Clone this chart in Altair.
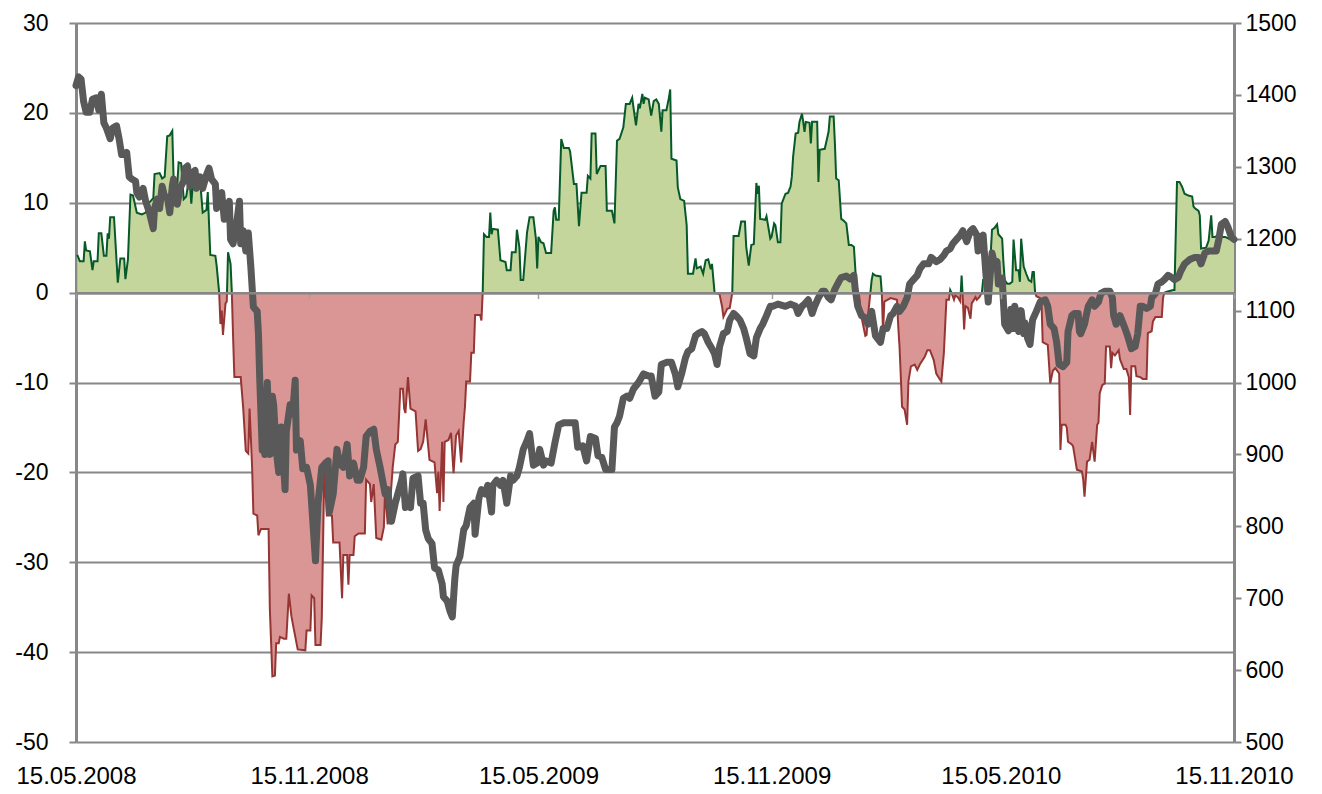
import altair as alt
import pandas as pd

# Oscillator (left axis): days since 15.05.2008 and value
osc_day = [1,3,6,7,8,11,13,14,17,18,20,22,24,25,26,27,30,33,35,38,39,41,43,45,48,52,55,57,61,62,66,68,70,72,74,76,77,79,81,83,85,87,89,90,91,93,96,98,100,103,104,106,110,111,113,114,115,116,118,119,120,122,123,124,125,130,132,134,136,137,139,140,143,144,146,152,153,155,157,158,160,161,164,166,168,170,172,175,181,182,185,186,188,189,193,194,196,198,202,203,208,210,211,214,215,216,219,220,223,228,229,232,233,235,237,241,243,244,246,248,250,252,254,256,258,259,260,262,264,268,270,272,274,276,278,279,283,285,286,287,289,290,291,294,296,298,300,302,304,306,307,308,311,312,314,315,319,320,321,
 322,324,326,327,328,329,333,335,339,340,343,344,347,348,350,351,353,356,358,361,363,364,365,367,369,371,375,377,378,379,381,383,385,389,390,393,395,397,399,403,404,406,407,410,411,414,418,419,423,425,427,429,432,434,437,439,440,442,444,445,447,448,449,452,454,456,458,460,462,463,466,468,469,470,474,475,477,480,482,483,487,489,490,493,495,497,499,501,502,504,
 508,510,511,514,516,518,
 519,523,525,528,529,531,533,535,537,538,539,540,544,545,548,549,551,552,554,556,557,560,562,564,565,566,568,570,571,573,574,575,576,579,580,581,585,586,587,591,594,595,598,599,600,602,604,606,608,610,612,614,616,617,
 618,620,621,623,624,625,627,
 628,629,631,635,636,
 637,638,643,648,649,650,652,654,656,657,659,662,664,666,670,672,674,677,679,682,683,685,687,689,690,691,693,694,696,698,699,700,701,702,704,706,707,710,711,713,715,
 716,719,721,723,725,727,728,731,732,733,735,737,739,740,742,744,745,746,748,750,752,754,755,756,757,
 758,762,763,767,769,771,773,776,777,778,781,782,783,786,787,790,794,795,796,798,800,802,804,806,807,808,810,812,813,816,817,818,820,823,824,827,829,831,832,833,836,837,840,842,845,846,849,850,852,857,858,859,
 861,866,867,869,871,873,875,878,881,882,883,886,887,888,892,894,896,897,899,902,904,907,910,912,914]
osc_val = [4.2,3.5,3.5,5.7,4.7,4.6,2.5,3.5,3.5,6.6,6.6,4.1,4.1,6.6,6.0,8.4,8.4,1.1,3.8,3.8,1.5,3.7,10.9,10.8,8.9,8.7,8.9,9.9,10.5,13.2,13.3,12.7,12.9,17.4,17.5,18.0,12.8,9.9,14.5,14.4,10.4,10.7,12.5,11.9,9.9,13.6,13.2,12.4,8.9,9.2,11.2,4.2,4.1,3.0,0,-3.5,-2.0,-4.7,-1.2,-1.0,4.5,3.2,0,-5.0,-9.4,-9.4,-12.9,-17.6,-17.9,-12.9,-19.4,-24.6,-24.8,-27.0,-26.3,-26.3,-35.2,-42.7,-42.6,-39.0,-39.0,-38.3,-38.5,-38.5,-33.5,-36.0,-37.5,-39.7,-39.8,-37.6,-37.6,-33.7,-34.0,-39.2,-39.2,-36.2,-19.6,-24.8,-24.8,-27.8,-27.8,-34.0,-29.2,-29.2,-32.5,-29.2,-29.2,-27.1,-26.8,-26.8,-20.8,-21.3,-23.3,-21.3,-27.3,-27.5,-26.1,-21.8,-25.8,-23.3,-19.4,-16.9,-16.6,-10.7,-10.7,-12.9,-13.4,-9.4,-12.9,-13.2,-17.6,-17.4,-16.6,-14.1,-17.1,-18.6,-18.9,-22.3,-19.9,-24.3,-16.6,-23.3,-16.6,-16.4,-15.6,-20.1,-15.9,-15.4,-18.9,-14.4,-12.7,-9.9,-9.9,-6.7,-6.7,-2.5,-2.5,-3.1,0,
 6.5,6.2,6.2,8.9,6.5,7.1,7.0,3.6,3.4,2.5,2.5,4.5,4.5,7.0,5.0,1.4,1.4,6.7,8.4,8.4,6.0,2.7,6.2,5.6,5.5,4.4,4.4,9.1,9.5,8.1,8.1,17.1,16.1,16.1,15.7,12.1,12.1,7.4,11.1,11.1,13.0,12.7,17.7,17.7,13.2,14.1,14.1,9.1,9.1,7.7,16.9,17.1,18.4,21.0,21.0,21.7,20.6,18.6,21.0,20.5,22.1,21.0,21.7,21.5,19.7,21.3,21.5,21.0,17.9,20.3,20.3,21.7,22.6,14.9,14.7,11.7,10.4,10.2,7.5,2.1,2.1,3.8,2.7,2.9,2.1,3.6,3.7,2.6,3.2,0,
 -0.2,-1.6,-2.7,-1.8,-1.7,0,
 6.3,6.3,7.9,7.9,5.1,3.0,5.3,5.4,12.2,11.0,11.9,8.2,8.1,8.5,6.0,6.2,7.7,7.5,5.6,5.6,9.9,11.0,11.1,11.8,12.9,15.1,17.7,17.8,19.0,19.9,19.0,17.9,19.0,18.9,16.6,19.0,19.0,12.3,15.9,16.0,17.9,19.6,19.6,16.6,12.7,12.5,8.2,8.0,7.7,5.3,5.3,5.1,0.6,0,
 -0.2,-2.7,-3.4,-4.8,-4.7,-2.7,0,
 1.4,2.1,1.9,1.8,0,
 -4.5,-1.0,-0.6,-0.8,-3.8,-6.0,-12.7,-13.0,-14.7,-9.9,-8.2,-8.0,-8.6,-8.0,-7.1,-6.4,-6.4,-7.5,-9.0,-9.7,-9.9,-6.7,-0.8,-0.8,0.3,0,-0.8,-0.3,-0.5,-1.0,1.9,-0.8,-4.1,-1.5,-1.7,-2.9,-1.2,-0.5,-0.8,-0.5,0,
 1.4,1.4,1.8,7.0,7.2,7.6,6.5,6.0,3.4,1.4,1.0,1.0,1.2,5.9,2.5,2.5,1.2,6.0,2.9,2.1,1.4,1.2,2.3,2.3,0,
 -0.4,-0.7,-5.5,-5.8,-10.1,-8.7,-8.4,-9.0,-17.5,-14.7,-14.7,-15.0,-16.6,-16.9,-17.1,-19.7,-19.9,-20.8,-22.7,-18.8,-18.6,-16.6,-18.8,-14.7,-14.5,-11.2,-10.3,-10.1,-6.0,-6.0,-8.4,-6.7,-7.0,-6.4,-7.4,-8.5,-8.5,-9.4,-13.6,-8.2,-8.2,-9.3,-9.4,-9.6,-9.6,-4.5,-4.3,-3.2,-2.7,-2.7,-0.6,0,
 0.1,0.3,0.3,12.3,12.3,11.8,11.0,10.8,10.7,9.6,9.4,9.1,8.6,4.9,5.0,5.8,8.6,6.2,6.2,6.4,6.2,6.2,6.0,6.0,6.0]

# Index (right axis): days since 15.05.2008 and level
idx_day = [0,2,4,6,8,11,13,16,18,20,22,24,27,29,32,34,36,39,40,42,44,47,48,50,53,55,58,61,62,64,66,68,70,72,74,76,77,80,82,85,86,88,90,92,94,95,98,100,103,105,107,110,111,115,117,119,121,122,124,127,129,130,132,134,136,138,140,143,144,145,147,148,149,151,153,155,156,158,160,162,165,166,169,171,173,174,177,179,182,185,189,191,194,197,199,200,203,206,208,211,214,216,219,222,224,227,229,232,235,237,240,244,246,249,252,254,257,258,260,262,264,266,270,272,274,276,278,281,283,286,289,290,293,295,297,299,300,303,306,308,311,314,315,318,320,323,325,328,329,332,335,337,340,343,345,348,350,353,356,358,361,364,366,369,371,375,378,381,385,389,394,396,400,403,406,410,412,415,418,423,425,427,429,432,435,437,440,444,448,452,454,457,460,462,466,470,473,475,478,481,483,486,489,491,494,496,499,502,504,506,508,511,514,516,519,521,524,527,529,532,535,537,540,542,545,548,550,554,560,564,568,570,573,575,578,581,583,586,589,591,594,596,599,602,604,608,611,614,615,617,620,623,625,628,631,635,637,640,643,645,648,650,653,656,658,661,664,666,669,673,675,679,682,685,687,690,692,695,698,700,703,706,708,711,712,714,716,718,720,721,723,725,727,728,731,733,736,738,740,741,744,746,748,749,751,753,755,758,761,765,767,769,772,774,776,779,782,783,786,788,791,792,793,796,797,799,802,804,807,809,812,816,818,819,821,824,826,828,830,833,836,838,840,842,845,848,849,852,854,857,859,862,865,867,870,872,875,879,883,886,888,891,894,897,900,902,904,907,909,912,914]
idx_val = [1413,1425,1422,1391,1376,1376,1394,1396,1379,1401,1361,1354,1339,1354,1357,1339,1317,1317,1320,1286,1283,1280,1264,1258,1270,1252,1236,1214,1242,1255,1242,1273,1258,1258,1236,1273,1283,1248,1270,1280,1298,1301,1273,1292,1295,1270,1286,1270,1289,1298,1283,1276,1242,1264,1227,1242,1252,1199,1193,1224,1252,1193,1211,1183,1208,1161,1105,1099,1068,1006,906,956,900,1000,900,981,969,906,875,938,851,932,969,956,1003,906,919,880,882,857,752,832,882,888,891,820,845,907,888,882,914,870,888,864,864,882,925,932,935,907,882,845,851,807,832,845,864,873,826,839,826,867,870,832,832,795,783,776,742,739,720,702,696,683,674,727,745,758,795,801,826,832,789,839,851,845,857,820,857,864,857,864,832,870,864,870,882,907,919,929,885,888,907,885,891,888,916,941,944,944,944,910,912,891,925,922,898,896,879,879,938,944,953,978,981,978,991,1000,1012,1009,1009,981,987,1025,1028,1028,1012,994,1012,1034,1043,1047,1065,1068,1071,1068,1056,1047,1040,1025,1050,1068,1071,1087,1096,1093,1087,1075,1062,1040,1037,1062,1075,1081,1093,1106,1106,1109,1106,1109,1106,1096,1106,1109,1115,1096,1106,1118,1127,1127,1118,1115,1130,1140,1146,1148,1144,1149,1130,1106,1093,1090,1081,1099,1065,1056,1075,1075,1093,1096,1106,1099,1106,1118,1137,1143,1149,1158,1165,1165,1174,1168,1171,1177,1183,1186,1193,1199,1205,1211,1196,1211,1214,1205,1183,1199,1205,1155,1112,1137,1180,1165,1168,1137,1145,1081,1072,1102,1075,1106,1071,1100,1068,1083,1062,1053,1087,1099,1112,1115,1106,1081,1075,1056,1025,1022,1028,1071,1093,1096,1096,1071,1068,1081,1090,1106,1115,1106,1112,1124,1127,1127,1118,1093,1081,1093,1084,1075,1065,1047,1050,1068,1106,1106,1103,1106,1118,1124,1137,1140,1143,1149,1146,1143,1146,1155,1165,1171,1174,1174,1165,1180,1183,1183,1183,1199,1220,1224,1217,1202,1199]

tick_days = [0, 184, 365, 549, 730, 914]
tick_labels = ["15.05.2008", "15.11.2008", "15.05.2009", "15.11.2009", "15.05.2010", "15.11.2010"]
left_ticks = [-50, -40, -30, -20, -10, 0, 10, 20, 30]
right_ticks = [500, 600, 700, 800, 900, 1000, 1100, 1200, 1300, 1400, 1500]

GREEN_FILL = "#c4d69c"
GREEN_LINE = "#07592a"
RED_FILL = "#d99694"
RED_LINE = "#963634"
GRAY = "#595959"
AXIS = "#878787"
FONT = "Liberation Sans"
FS = 23
FSX = 24

# split the oscillator into same-sign runs (insert zero crossings)
pts = []
for i, (d, v) in enumerate(zip(osc_day, osc_val)):
    if i > 0:
        d0, v0 = osc_day[i - 1], osc_val[i - 1]
        if v0 * v < 0:
            pts.append((d0 + (d - d0) * v0 / (v0 - v), 0.0))
    pts.append((d, v))

segments = []
cur, cur_sign = [], 0
for d, v in pts:
    s = (v > 0) - (v < 0)
    if s != 0 and cur_sign == 0:
        cur_sign = s
    cur.append((d, v))
    if s == 0 and cur_sign != 0:
        segments.append((cur_sign, cur))
        cur, cur_sign = [(d, v)], 0
if cur_sign != 0:
    segments.append((cur_sign, cur))

rows = []
for k, (s, seg) in enumerate(segments):
    for d, v in seg:
        rows.append({"day": d, "val": v, "seg": k, "sign": "pos" if s > 0 else "neg"})
df_osc = pd.DataFrame(rows)
df_idx = pd.DataFrame({"day": idx_day, "level": idx_val})

label_expr = "".join(f"datum.value == {d} ? '{l}' : " for d, l in zip(tick_days, tick_labels)) + "''"

W, H = 1158, 719
zero_offset = -H * 50 / 80

x_scale = alt.Scale(domain=[0, 914], nice=False, zero=False)

x_zero_axis = alt.Axis(orient="bottom", values=tick_days, labels=False, grid=False,
                       domain=True, domainColor=AXIS, domainWidth=2.5,
                       ticks=True, tickColor="#a0a0a0", tickSize=6, tickWidth=1.5,
                       offset=zero_offset, zindex=1, title=None)
x_label_axis = alt.Axis(orient="bottom", values=tick_days, labelExpr=label_expr,
                        grid=False, domain=False, ticks=False, labelFont=FONT,
                        labelFontSize=FSX, labelColor="#000000", labelPadding=22,
                        labelFlush=False, labelOverlap=False, title=None)

y_left = alt.Scale(domain=[-50, 30], nice=False, zero=False)
y_left_axis = alt.Axis(orient="left", values=left_ticks, grid=True, gridColor=AXIS,
                       gridWidth=2, domain=True, domainColor=AXIS, domainWidth=3,
                       ticks=True, tickColor=AXIS, tickSize=7, tickWidth=2,
                       labelExpr="'' + datum.value",
                       labelFont=FONT, labelFontSize=FS, labelColor="#000000",
                       labelPadding=21, labelFlush=False, title=None)
y_right = alt.Scale(domain=[500, 1500], nice=False, zero=False)
y_right_axis = alt.Axis(orient="right", values=right_ticks, grid=False,
                        domain=True, domainColor=AXIS, domainWidth=3,
                        ticks=True, tickColor=AXIS, tickSize=7, tickWidth=2,
                        labelExpr="'' + datum.value",
                        labelFont=FONT, labelFontSize=FS, labelColor="#000000",
                        labelPadding=4, labelFlush=False, title=None)

base = alt.Chart(df_osc)
areas = base.mark_area(interpolate="linear", opacity=1, strokeWidth=0).encode(
    x=alt.X("day:Q", scale=x_scale, axis=x_zero_axis),
    y=alt.Y("val:Q", scale=y_left, axis=y_left_axis),
    y2=alt.datum(0),
    detail="seg:N",
    fill=alt.Fill("sign:N", scale=alt.Scale(domain=["pos", "neg"], range=[GREEN_FILL, RED_FILL]), legend=None),
)
lines = base.mark_line(interpolate="linear", strokeWidth=2).encode(
    x=alt.X("day:Q", scale=x_scale, axis=x_zero_axis),
    y=alt.Y("val:Q", scale=y_left, axis=y_left_axis),
    detail="seg:N",
    stroke=alt.Stroke("sign:N", scale=alt.Scale(domain=["pos", "neg"], range=[GREEN_LINE, RED_LINE]), legend=None),
)
osc_layer = alt.layer(areas, lines)

idx_line = alt.Chart(df_idx).mark_line(color=GRAY, strokeWidth=7, strokeCap="round", strokeJoin="round").encode(
    x=alt.X("day:Q", scale=x_scale, axis=x_label_axis),
    y=alt.Y("level:Q", scale=y_right, axis=y_right_axis),
)

chart = alt.layer(osc_layer, idx_line).resolve_scale(y="independent").resolve_axis(
    x="independent", y="independent"
).properties(
    width=W, height=H,
    autosize=alt.AutoSizeParams(type="none"),
    padding={"left": 68, "top": 15, "right": 80, "bottom": 54},
    background="white",
).configure_view(stroke=None)

chart.save("out.html", embed_options={"renderer": "svg", "actions": False})
